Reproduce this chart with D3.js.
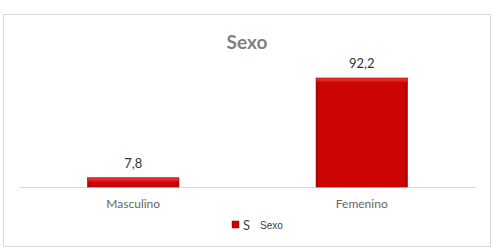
<!DOCTYPE html>
<html>
<head>
<meta charset="utf-8">
<script src="https://cdn.jsdelivr.net/npm/d3@7"></script>
<style>
  body { margin: 0; background: #fff; }
  svg { display: block; font-family: Lato, "Open Sans", sans-serif; }
</style>
</head>
<body>
<svg id="chart" width="494" height="251"></svg>
<script>
// data
const categories = ["Masculino", "Femenino"];
const values = [7.8, 92.2];
const valueLabels = ["7,8", "92,2"];
const seriesName = "Sexo";

const svg = d3.select("#chart");

// outer frame
svg.append("rect")
  .attr("x", 3.5).attr("y", 14.5)
  .attr("width", 487).attr("height", 232)
  .attr("fill", "#fff")
  .attr("stroke", "#d9d9d9");

const x = d3.scaleBand()
  .domain(categories)
  .range([19, 476])
  .paddingInner(0.6)
  .paddingOuter(0.3);

const y = d3.scaleLinear()
  .domain([0, 100])
  .range([187, 68.8]);

// gradients for the bevel look
const defs = svg.append("defs");
const grad = defs.append("linearGradient")
  .attr("id", "bevelTop").attr("x1", 0).attr("x2", 0).attr("y1", 0).attr("y2", 1);
grad.append("stop").attr("offset", "0%").attr("stop-color", "#ee3c3c");
grad.append("stop").attr("offset", "100%").attr("stop-color", "#cf0606");

const sideGrad = defs.append("linearGradient")
  .attr("id", "bevelSide").attr("x1", 0).attr("x2", 1).attr("y1", 0).attr("y2", 0);
sideGrad.append("stop").attr("offset", "0%").attr("stop-color", "#a80000");
sideGrad.append("stop").attr("offset", "4%").attr("stop-color", "#cc0404");
sideGrad.append("stop").attr("offset", "96%").attr("stop-color", "#cc0404");
sideGrad.append("stop").attr("offset", "100%").attr("stop-color", "#a80000");

// title
svg.append("text")
  .attr("x", 247).attr("y", 49)
  .attr("text-anchor", "middle")
  .attr("font-size", 19).attr("font-weight", "bold")
  .attr("fill", "#7f7f7f")
  .text(seriesName);

// axis line
svg.append("line")
  .attr("x1", 19).attr("x2", 476)
  .attr("y1", 187.5).attr("y2", 187.5)
  .attr("stroke", "#d9d9d9");

const bars = svg.append("g").selectAll("g")
  .data(values)
  .enter().append("g");

bars.append("rect")
  .attr("x", (d, i) => x(categories[i]))
  .attr("y", d => y(d))
  .attr("width", x.bandwidth())
  .attr("height", d => y(0) - y(d))
  .attr("fill", "url(#bevelSide)")
  .attr("stroke", "#9a0000")
  .attr("stroke-width", 0.6);

// top bevel strip
bars.append("rect")
  .attr("x", (d, i) => x(categories[i]) + 0.5)
  .attr("y", d => y(d) + 0.5)
  .attr("width", x.bandwidth() - 1)
  .attr("height", d => Math.min(4, (y(0) - y(d)) / 2))
  .attr("fill", "url(#bevelTop)");

// value labels
svg.append("g").selectAll("text")
  .data(values)
  .enter().append("text")
  .attr("x", (d, i) => x(categories[i]) + x.bandwidth() / 2)
  .attr("y", d => y(d) - 10)
  .attr("text-anchor", "middle")
  .attr("font-size", 13)
  .attr("fill", "#333")
  .text((d, i) => valueLabels[i]);

// category labels
svg.append("g").selectAll("text")
  .data(categories)
  .enter().append("text")
  .attr("x", d => x(d) + x.bandwidth() / 2)
  .attr("y", 208)
  .attr("text-anchor", "middle")
  .attr("font-size", 12)
  .attr("fill", "#666")
  .text(d => d);

// legend
const legend = svg.append("g");
legend.append("rect")
  .attr("x", 232).attr("y", 221)
  .attr("width", 7).attr("height", 7)
  .attr("fill", "#cc0000")
  .attr("stroke", "#9a0000").attr("stroke-width", 0.5);
legend.append("text")
  .attr("x", 243).attr("y", 229.5)
  .attr("font-size", 13)
  .attr("fill", "#404040")
  .text(seriesName.charAt(0));
legend.append("text")
  .attr("x", 260).attr("y", 229)
  .attr("font-size", 10)
  .attr("font-family", "'Liberation Sans', Arial, sans-serif")
  .attr("fill", "#404040")
  .text(seriesName);
</script>
</body>
</html>
